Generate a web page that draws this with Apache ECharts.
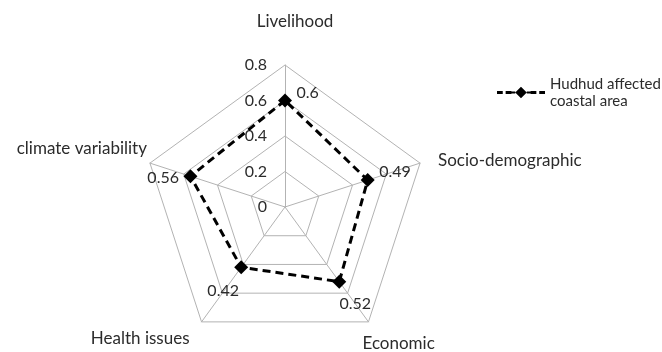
<!DOCTYPE html>
<html>
<head>
<meta charset="utf-8">
<script src="https://cdn.jsdelivr.net/npm/echarts@6/dist/echarts.min.js"></script>
<style>
  html, body { margin: 0; padding: 0; background: #fff; }
  #radar1 { width: 662px; height: 352px; }
</style>
</head>
<body>
<div id="radar1"></div>
<script>
  // 指标 (radar draws counter-clockwise from the top, so left side comes second)
  var indicatorNames = ['Livelihood', 'climate variability', 'Health issues', 'Economic', 'Socio-demographic'];
  var indicatorMax = 0.8;
  var seriesName = 'Hudhud affected\ncoastal area';
  var seriesValues = [0.6, 0.56, 0.42, 0.52, 0.49];
  var tickLabels = ['0', '0.2', '0.4', '0.6', '0.8'];

  var FONT = 'Lato';
  var TXT = '#2b2b2b';

  // padding per axis name: [top, right, bottom, left]
  var namePads = {
    'Livelihood': [0, 0, 35, 20],
    'climate variability': [0, 3, 30, 0],
    'Health issues': [34, 12, 0, 0],
    'Economic': [44, 0, 0, -6],
    'Socio-demographic': [0, 0, 6, 18]
  };
  // label placement per point (same order as seriesValues)
  var labelPos = [
    { position: 'right', distance: 5, offset: [0, -8] },
    { position: 'left', distance: 5, offset: [0, 2] },
    { position: 'bottom', distance: 9, offset: [-18, 0] },
    { position: 'bottom', distance: 8, offset: [16, 0] },
    { position: 'right', distance: 5, offset: [0, -8] }
  ];

  var rich = {};
  indicatorNames.forEach(function (n, i) {
    rich['n' + i] = { padding: namePads[n], fontFamily: FONT, fontSize: 17, color: TXT };
  });

  var indicators = indicatorNames.map(function (n, i) {
    var ind = { name: n, max: indicatorMax, min: 0 };
    if (i === 0) {
      ind.axisLabel = {
        show: true,
        margin: 18,
        fontFamily: FONT,
        fontSize: 16,
        color: TXT,
        formatter: function (v, idx) { return tickLabels[idx]; }
      };
    }
    return ind;
  });

  // 主线
  var dataItems = [{
    value: seriesValues,
    name: seriesName,
    symbol: 'diamond',
    symbolSize: 14,
    itemStyle: { color: '#000' },
    lineStyle: { color: '#000', width: 3, type: [8, 5] },
    label: { show: false }
  }];
  // 数值标签，每个点一个
  labelPos.forEach(function (lp, k) {
    dataItems.push({
      value: seriesValues,
      name: 'lbl' + k,
      symbol: 'circle',
      symbolSize: 13,
      itemStyle: { color: 'rgba(0,0,0,0)' },
      lineStyle: { width: 0, opacity: 0 },
      label: {
        show: true,
        position: lp.position,
        distance: lp.distance,
        offset: lp.offset,
        fontFamily: FONT,
        fontSize: 16,
        color: TXT,
        formatter: function (p) { return p.value === seriesValues[k] ? String(seriesValues[k]) : ''; }
      }
    });
  });

  var chart = echarts.init(document.getElementById('radar1'));
  var option = {
    animation: false,
    backgroundColor: '#fff',
    legend: {
      data: [seriesName],
      left: 492,
      top: 62,
      itemWidth: 48,
      itemHeight: 12,
      itemGap: 5,
      icon: 'path://M0,4.5h6v3h-6z M9,4.5h6v3h-6z M15,5h4v2h-4z M19,6L25,0L31,6L25,12z M31,5h4v2h-4z M35,4.5h6v3h-6z M44,4.5h6v3h-6z',
      itemStyle: { color: '#000' },
      textStyle: {
        fontFamily: FONT,
        fontSize: 15,
        color: TXT,
        lineHeight: 17,
        padding: [17, 0, 0, 0]
      }
    },
    radar: {
      center: [285, 207],
      radius: 142,
      startAngle: 90,
      splitNumber: 4,
      shape: 'polygon',
      nameGap: 0,
      indicator: indicators,
      axisName: {
        color: TXT,
        fontFamily: FONT,
        fontSize: 17,
        formatter: function (name) {
          var i = indicatorNames.indexOf(name);
          return '{n' + i + '|' + name + '}';
        },
        rich: rich
      },
      axisLine: { lineStyle: { color: '#b3b3b3', width: 1 } },
      splitLine: { lineStyle: { color: '#b3b3b3', width: 1 } },
      splitArea: { show: false },
      axisTick: { show: false }
    },
    series: [{
      type: 'radar',
      silent: true,
      data: dataItems
    }]
  };
  chart.setOption(option);
</script>
</body>
</html>
